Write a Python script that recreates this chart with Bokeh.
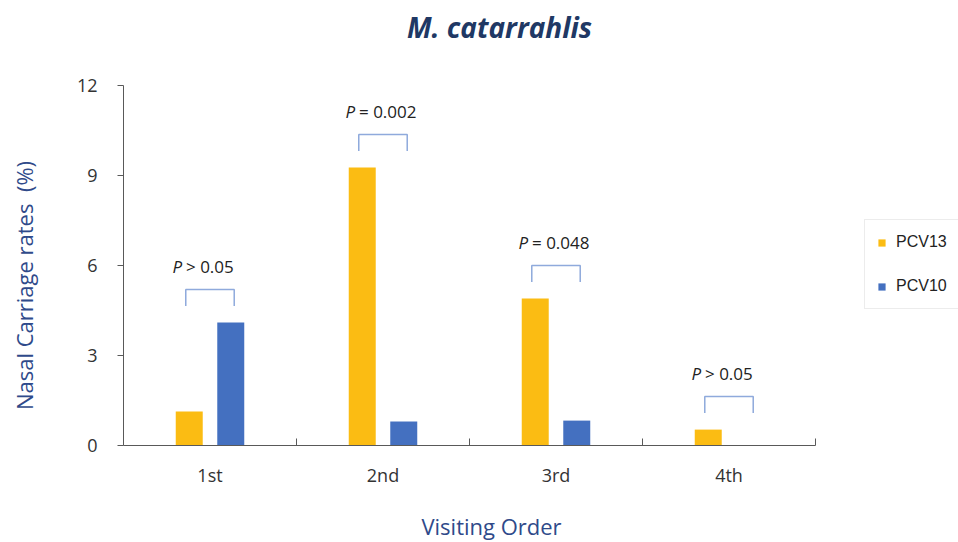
import numpy as np
from bokeh.plotting import figure
from bokeh.models import Range1d, FixedTicker, Legend, LegendItem, Label
from bokeh.core.properties import value
from bokeh.embed import file_html
from bokeh.resources import INLINE

# Nasal carriage rates (%) of M. catarrhalis by visit
visits = ["1st", "2nd", "3rd", "4th"]
pcv13 = [1.13, 9.27, 4.9, 0.53]
pcv10 = [4.1, 0.8, 0.83, 0.0]
p_labels = ["> 0.05", "= 0.002", "= 0.048", "> 0.05"]
y_ticks = [0, 3, 6, 9, 12]

YELLOW = "#FBBC13"
BLUE = "#4470C0"
NAVY = "#2F4A8A"
AXIS = "#595959"
FONT = "Open Sans"

# page and plotting-area geometry (pixels); the frame fills the whole page and
# the axes are pinned inside it so every annotation can be placed freely
W, H = 958, 542
AX_L, AX_R, AX_T, AX_B = 123, 815, 85, 445
n = len(visits)
x_lo, x_hi = 0.5, n + 0.5
y_lo, y_hi = 0, 12
sx = (AX_R - AX_L) / (x_hi - x_lo)
sy = (AX_B - AX_T) / (y_hi - y_lo)


def px_x(px):
    return x_lo + (px - AX_L) / sx


def px_y(py):
    return y_lo + (AX_B - py) / sy


p = figure(width=W, height=H, output_backend="svg", toolbar_location=None,
           x_range=Range1d(px_x(0), px_x(W)), y_range=Range1d(px_y(H), px_y(0)),
           min_border=0)
p.outline_line_color = None
p.xgrid.visible = False
p.ygrid.visible = False

pos = np.arange(1, n + 1)
bar_w = 0.156
dodge = 0.12
r13 = p.vbar(x=pos - dodge, top=pcv13, width=bar_w, fill_color=YELLOW, line_color=None)
r10 = p.vbar(x=pos + dodge, top=pcv10, width=bar_w, fill_color=BLUE, line_color=None)

# significance brackets above each pair
tallest = np.maximum(pcv13, pcv10)
b_low = tallest + 0.55
b_high = b_low + 0.55
half = 0.14
xs = [[c - half, c - half, c + half, c + half] for c in pos]
ys = [[lo, hi, hi, lo] for lo, hi in zip(b_low, b_high)]
p.multi_line(xs=xs, ys=ys, line_color="#8FAADC", line_width=1.5)

label_y = b_high + 0.78
p.text(x=pos, y=label_y, text=["P"] * n, text_align="right",
       text_baseline="middle", x_offset=-28, text_font=value(FONT),
       text_font_style="italic", text_font_size="17px", text_color="#222222")
p.text(x=pos, y=label_y, text=p_labels, text_align="left",
       text_baseline="middle", x_offset=-24, text_font=value(FONT),
       text_font_size="17px", text_color="#222222")

# x axis: labels at category centres, separator ticks between categories
xa = p.xaxis[0]
xa.fixed_location = y_lo
xa.bounds = (x_lo, x_hi)
xa.ticker = FixedTicker(ticks=list(pos), minor_ticks=list(pos + 0.5))
xa.major_label_overrides = {int(c): v for c, v in zip(pos, visits)}
xa.major_tick_line_color = None
xa.major_tick_in = 0
xa.major_tick_out = 0
xa.minor_tick_in = 7
xa.minor_tick_out = 0
xa.minor_tick_line_color = AXIS
xa.axis_line_color = AXIS
xa.major_label_standoff = 17
xa.major_label_text_font = FONT
xa.major_label_text_font_size = "18px"
xa.major_label_text_color = "#333333"

ya = p.yaxis[0]
ya.fixed_location = x_lo
ya.bounds = (y_lo, y_hi)
ya.ticker = FixedTicker(ticks=y_ticks)
ya.major_tick_in = 0
ya.major_tick_out = 6
ya.major_tick_line_color = AXIS
ya.minor_tick_line_color = None
ya.axis_line_color = AXIS
ya.major_label_standoff = 20
ya.major_label_text_font = FONT
ya.major_label_text_font_size = "18px"
ya.major_label_text_color = "#333333"

# titles
p.add_layout(Label(x=px_x(499), y=px_y(26), text="M. catarrahlis",
                   text_align="center", text_baseline="middle", text_font=FONT,
                   text_font_style="bold italic", text_font_size="28px",
                   text_color="#203864"))
p.add_layout(Label(x=px_x(491), y=px_y(525), text="Visiting Order",
                   text_align="center", text_baseline="middle", text_font=FONT,
                   text_font_size="22px", text_color=NAVY))
p.add_layout(Label(x=px_x(23), y=px_y(285), text="Nasal Carriage rates\u00a0 (%)",
                   angle=np.pi / 2, text_align="center", text_baseline="middle",
                   text_font=FONT, text_font_size="22px", text_color=NAVY))

legend = Legend(items=[LegendItem(label="PCV13", renderers=[r13]),
                       LegendItem(label="PCV10", renderers=[r10])],
                location=(864, H - 309), orientation="vertical",
                glyph_width=9, glyph_height=9, label_standoff=10,
                label_width=60, label_height=20, spacing=24, padding=12,
                margin=0, border_line_color="#D9D9D9",
                label_text_font="Liberation Sans", label_text_font_size="16px",
                label_text_color="#222222")
p.add_layout(legend)

open("out.html", "w").write(file_html(p, INLINE))
